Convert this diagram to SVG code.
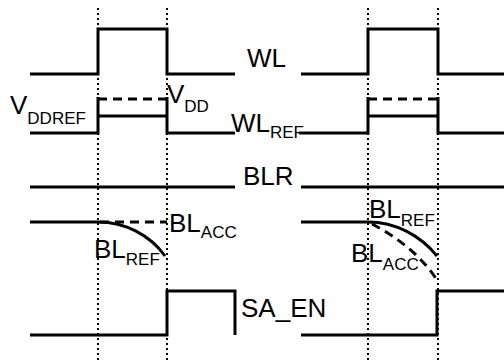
<svg xmlns="http://www.w3.org/2000/svg" width="504" height="363" viewBox="0 0 504 363">
<style>
.sig{fill:none;stroke:#000;stroke-width:3;stroke-linejoin:miter}
.dash{fill:none;stroke:#000;stroke-width:3;stroke-dasharray:9,6}
.dot{fill:none;stroke:#000;stroke-width:2;stroke-dasharray:2,3}
.t{font-family:"Liberation Sans",Arial,sans-serif;font-size:26px;fill:#000}
.s{font-size:17px}
</style>
<rect width="504" height="363" fill="#fff"/>
<g id="guides">
<line class="dot" x1="98" y1="8" x2="98" y2="362"/>
<line class="dot" x1="167" y1="8" x2="167" y2="362"/>
<line class="dot" x1="368" y1="8" x2="368" y2="362"/>
<line class="dot" x1="438" y1="8" x2="438" y2="362"/>
</g>
<g id="WL">
<path class="sig" d="M30,74 H98 V29 H167 V74 H235"/>
<path class="sig" d="M301,74 H368 V29 H438 V74 H504"/>
<text class="t" x="247" y="67">WL</text>
</g>
<g id="WLREF">
<path class="sig" d="M30,133 H98 V97"/>
<path class="sig" d="M98,116 H167"/>
<path class="sig" d="M167,97 V133 H235"/>
<path class="dash" d="M98,99 H167"/>
<path class="sig" d="M299,133 H368 V97"/>
<path class="sig" d="M368,116 H438"/>
<path class="sig" d="M438,97 V133 H504"/>
<path class="dash" d="M368,99 H438"/>
<text class="t" x="231" y="132">WL<tspan class="s" dy="6">REF</tspan></text>
<text class="t" x="10" y="114">V<tspan class="s" dy="10">DDREF</tspan></text>
<text class="t" x="167" y="103">V<tspan class="s" dy="9">DD</tspan></text>
</g>
<g id="BLR">
<path class="sig" d="M30,187 H235"/>
<path class="sig" d="M301,187 H504"/>
<text class="t" x="243" y="185">BLR</text>
</g>
<g id="BL">
<path class="sig" d="M30,222 H98 C125,222 150,235 165,256"/>
<path class="dash" d="M100,222 H167"/>
<path class="sig" d="M301,222 H368 C395,222 420,235 437,256"/>
<path class="dash" d="M372,224 C395,236 420,254 437,280"/>
<text class="t" x="169" y="232">BL<tspan class="s" dy="6">ACC</tspan></text>
<text class="t" x="94" y="258">BL<tspan class="s" dy="7">REF</tspan></text>
<text class="t" x="369" y="218">BL<tspan class="s" dy="8">REF</tspan></text>
<text class="t" x="351" y="262">BL<tspan class="s" dy="8">ACC</tspan></text>
</g>
<g id="SAEN">
<path class="sig" d="M30,335 H167 V291 H235 V335"/>
<path class="sig" d="M301,335 H437 V291 H504"/>
<text class="t" x="241" y="317">SA_EN</text>
</g>
</svg>
